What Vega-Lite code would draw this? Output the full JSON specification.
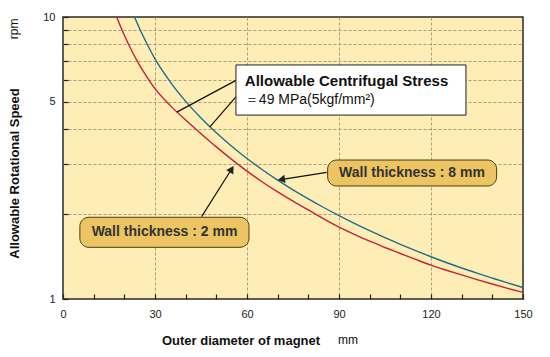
{
  "$schema": "https://vega.github.io/schema/vega-lite/v6.json",
  "width": 460,
  "height": 282,
  "autosize": "none",
  "padding": {"left": 63, "top": 17, "right": 27, "bottom": 58},
  "background": "white",
  "config": {
    "view": {"fill": "#FEEDB5", "stroke": "#2a2a2a", "strokeWidth": 1.5},
    "font": "Liberation Sans"
  },
  "datasets": {
    "curves": [
      {"series": "2 mm", "x": 17.5, "y": 10},
      {"series": "2 mm", "x": 20, "y": 8.61},
      {"series": "2 mm", "x": 22.5, "y": 7.56},
      {"series": "2 mm", "x": 25, "y": 6.74},
      {"series": "2 mm", "x": 27.5, "y": 6.1},
      {"series": "2 mm", "x": 30, "y": 5.57},
      {"series": "2 mm", "x": 35, "y": 4.85},
      {"series": "2 mm", "x": 40, "y": 4.31},
      {"series": "2 mm", "x": 45, "y": 3.855},
      {"series": "2 mm", "x": 50, "y": 3.462},
      {"series": "2 mm", "x": 55, "y": 3.127},
      {"series": "2 mm", "x": 60, "y": 2.84},
      {"series": "2 mm", "x": 65, "y": 2.6},
      {"series": "2 mm", "x": 70, "y": 2.397},
      {"series": "2 mm", "x": 75, "y": 2.222},
      {"series": "2 mm", "x": 80, "y": 2.07},
      {"series": "2 mm", "x": 85, "y": 1.925},
      {"series": "2 mm", "x": 90, "y": 1.8},
      {"series": "2 mm", "x": 95, "y": 1.696},
      {"series": "2 mm", "x": 100, "y": 1.603},
      {"series": "2 mm", "x": 105, "y": 1.523},
      {"series": "2 mm", "x": 110, "y": 1.45},
      {"series": "2 mm", "x": 115, "y": 1.381},
      {"series": "2 mm", "x": 120, "y": 1.318},
      {"series": "2 mm", "x": 125, "y": 1.265},
      {"series": "2 mm", "x": 130, "y": 1.217},
      {"series": "2 mm", "x": 135, "y": 1.172},
      {"series": "2 mm", "x": 140, "y": 1.13},
      {"series": "2 mm", "x": 145, "y": 1.091},
      {"series": "2 mm", "x": 150, "y": 1.055},
      {"series": "8 mm", "x": 23.3, "y": 10},
      {"series": "8 mm", "x": 25, "y": 9.09},
      {"series": "8 mm", "x": 27.5, "y": 7.99},
      {"series": "8 mm", "x": 30, "y": 7.1},
      {"series": "8 mm", "x": 35, "y": 5.88},
      {"series": "8 mm", "x": 40, "y": 5.02},
      {"series": "8 mm", "x": 45, "y": 4.385},
      {"series": "8 mm", "x": 50, "y": 3.884},
      {"series": "8 mm", "x": 55, "y": 3.481},
      {"series": "8 mm", "x": 60, "y": 3.15},
      {"series": "8 mm", "x": 65, "y": 2.873},
      {"series": "8 mm", "x": 70, "y": 2.638},
      {"series": "8 mm", "x": 75, "y": 2.437},
      {"series": "8 mm", "x": 80, "y": 2.263},
      {"series": "8 mm", "x": 85, "y": 2.111},
      {"series": "8 mm", "x": 90, "y": 1.976},
      {"series": "8 mm", "x": 95, "y": 1.855},
      {"series": "8 mm", "x": 100, "y": 1.747},
      {"series": "8 mm", "x": 105, "y": 1.65},
      {"series": "8 mm", "x": 110, "y": 1.563},
      {"series": "8 mm", "x": 115, "y": 1.484},
      {"series": "8 mm", "x": 120, "y": 1.412},
      {"series": "8 mm", "x": 125, "y": 1.347},
      {"series": "8 mm", "x": 130, "y": 1.288},
      {"series": "8 mm", "x": 135, "y": 1.235},
      {"series": "8 mm", "x": 140, "y": 1.186},
      {"series": "8 mm", "x": 145, "y": 1.14},
      {"series": "8 mm", "x": 150, "y": 1.098}
    ],
    "leaders": [
      {"name": "stress to 2 mm", "x": 37.1, "y": 4.6, "x2": 56.4, "y2": 5.96},
      {"name": "stress to 8 mm", "x": 47.9, "y": 4.08, "x2": 56.4, "y2": 5.21},
      {"name": "8 mm arrow", "x": 86.0, "y": 2.81, "x2": 71.0, "y2": 2.65},
      {"name": "2 mm arrow", "x": 45.2, "y": 1.96, "x2": 55.0, "y2": 2.89}
    ],
    "stressBox": [
      {"x": 56.4, "x2": 131.4, "y": 6.76, "y2": 4.49}
    ],
    "wallBoxes": [
      {"label": "Wall thickness : 8 mm", "x": 86.3, "x2": 141.4, "y": 3.11, "y2": 2.516, "tx": 113.8, "ty": 2.797},
      {"label": "Wall thickness : 2 mm", "x": 5.5, "x2": 60.65, "y": 1.949, "y2": 1.525, "tx": 33.1, "ty": 1.728}
    ]
  },
  "encoding": {
    "x": {
      "field": "x",
      "type": "quantitative",
      "scale": {"domain": [0, 150], "nice": false, "zero": false},
      "axis": {
        "values": [0, 10, 20, 30, 40, 50, 60, 70, 80, 90, 100, 110, 120, 130, 140, 150],
        "labelExpr": "datum.value % 30 === 0 ? datum.label : ''",
        "grid": true,
        "gridColor": "#A39578",
        "gridDash": [3, 2],
        "gridWidth": 1,
        "gridOpacity": {"condition": {"test": "datum.value % 30 === 0 && datum.value > 0 && datum.value < 150", "value": 0.9}, "value": 0},
        "domain": false,
        "ticks": true,
        "tickSize": -5,
        "tickColor": "#222",
        "tickWidth": 1.2,
        "labelPadding": 14,
        "labelFontSize": 11,
        "labelColor": "#222",
        "labelFlush": false,
        "title": "Outer diameter of magnet",
        "titleFontSize": 13,
        "titleFontWeight": "bold",
        "titleColor": "#111",
        "titleX": 177.5,
        "titleY": 45,
        "titleAlign": "center",
        "titleBaseline": "alphabetic"
      }
    },
    "y": {
      "field": "y",
      "type": "quantitative",
      "scale": {"type": "log", "domain": [1, 10], "nice": false},
      "axis": {
        "values": [1, 2, 3, 4, 5, 6, 7, 8, 9, 10],
        "format": "d",
        "labelExpr": "datum.value === 1 || datum.value === 5 || datum.value === 10 ? datum.label : ''",
        "grid": true,
        "gridColor": "#A39578",
        "gridDash": [3, 2],
        "gridWidth": 1,
        "gridOpacity": {"condition": {"test": "datum.value > 1 && datum.value < 10", "value": 0.9}, "value": 0},
        "domain": false,
        "ticks": true,
        "tickSize": -5,
        "tickColor": "#222",
        "tickWidth": 1.2,
        "labelPadding": 13,
        "labelFontSize": 11,
        "labelColor": "#222",
        "labelFlush": false,
        "title": "Allowable Rotational Speed",
        "titleFontSize": 13,
        "titleFontWeight": "bold",
        "titleColor": "#111",
        "titleAngle": 270,
        "titleX": -49,
        "titleY": 156,
        "titleAlign": "center",
        "titleBaseline": "middle"
      }
    }
  },
  "layer": [
    {
      "data": {"name": "curves"},
      "mark": {"type": "line", "strokeWidth": 1.4, "interpolate": "monotone", "clip": true},
      "encoding": {
        "color": {
          "field": "series",
          "type": "nominal",
          "scale": {"domain": ["2 mm", "8 mm"], "range": ["#C8203C", "#1D6E8E"]},
          "legend": null
        }
      }
    },
    {
      "data": {"name": "leaders"},
      "mark": {"type": "rule", "color": "#111", "strokeWidth": 1.2},
      "encoding": {
        "x2": {"field": "x2"},
        "y2": {"field": "y2"}
      }
    },
    {
      "data": {"values": [{"x": 71.2, "y": 2.653}]},
      "mark": {"type": "point", "shape": "triangle-left", "angle": 351, "size": 70, "filled": true, "color": "#222", "opacity": 1}
    },
    {
      "data": {"values": [{"x": 55.0, "y": 2.886}]},
      "mark": {"type": "point", "shape": "triangle-up", "angle": 32, "size": 70, "filled": true, "color": "#222", "opacity": 1}
    },
    {
      "data": {"name": "stressBox"},
      "mark": {"type": "rect", "fill": "#2a2a2a", "xOffset": 3, "yOffset": 3},
      "encoding": {"x2": {"field": "x2"}, "y2": {"field": "y2"}}
    },
    {
      "data": {"name": "stressBox"},
      "mark": {"type": "rect", "fill": "white", "stroke": "#222", "strokeWidth": 1},
      "encoding": {"x2": {"field": "x2"}, "y2": {"field": "y2"}}
    },
    {
      "data": {"values": [{"label": "Allowable Centrifugal Stress", "x": 59.3, "y": 5.93}]},
      "mark": {"type": "text", "align": "left", "baseline": "middle", "fontSize": 15, "fontWeight": "bold", "color": "#111"},
      "encoding": {"text": {"field": "label"}}
    },
    {
      "data": {"values": [{"label": "＝49 MPa(5kgf/mm²)", "x": 59.3, "y": 5.08}]},
      "mark": {"type": "text", "align": "left", "baseline": "middle", "fontSize": 14, "color": "#111"},
      "encoding": {"text": {"field": "label"}}
    },
    {
      "data": {"name": "wallBoxes"},
      "mark": {"type": "rect", "fill": "#ECC462", "stroke": "#4a3c1e", "strokeWidth": 1, "cornerRadius": 9},
      "encoding": {"x2": {"field": "x2"}, "y2": {"field": "y2"}}
    },
    {
      "data": {"name": "wallBoxes"},
      "mark": {"type": "text", "align": "center", "baseline": "middle", "fontSize": 14, "fontWeight": "bold", "color": "#333"},
      "encoding": {
        "x": {"field": "tx", "type": "quantitative"},
        "y": {"field": "ty", "type": "quantitative"},
        "text": {"field": "label"}
      }
    },
    {
      "data": {"values": [{"label": "rpm", "x": -16, "y": 9.07}]},
      "mark": {"type": "text", "angle": 270, "align": "center", "baseline": "middle", "fontSize": 12, "color": "#111"},
      "encoding": {"text": {"field": "label"}}
    },
    {
      "data": {"values": [{"label": "mm", "x": 92.9, "y": 0.692}]},
      "mark": {"type": "text", "align": "center", "baseline": "alphabetic", "fontSize": 12, "color": "#111"},
      "encoding": {"text": {"field": "label"}}
    }
  ]
}
